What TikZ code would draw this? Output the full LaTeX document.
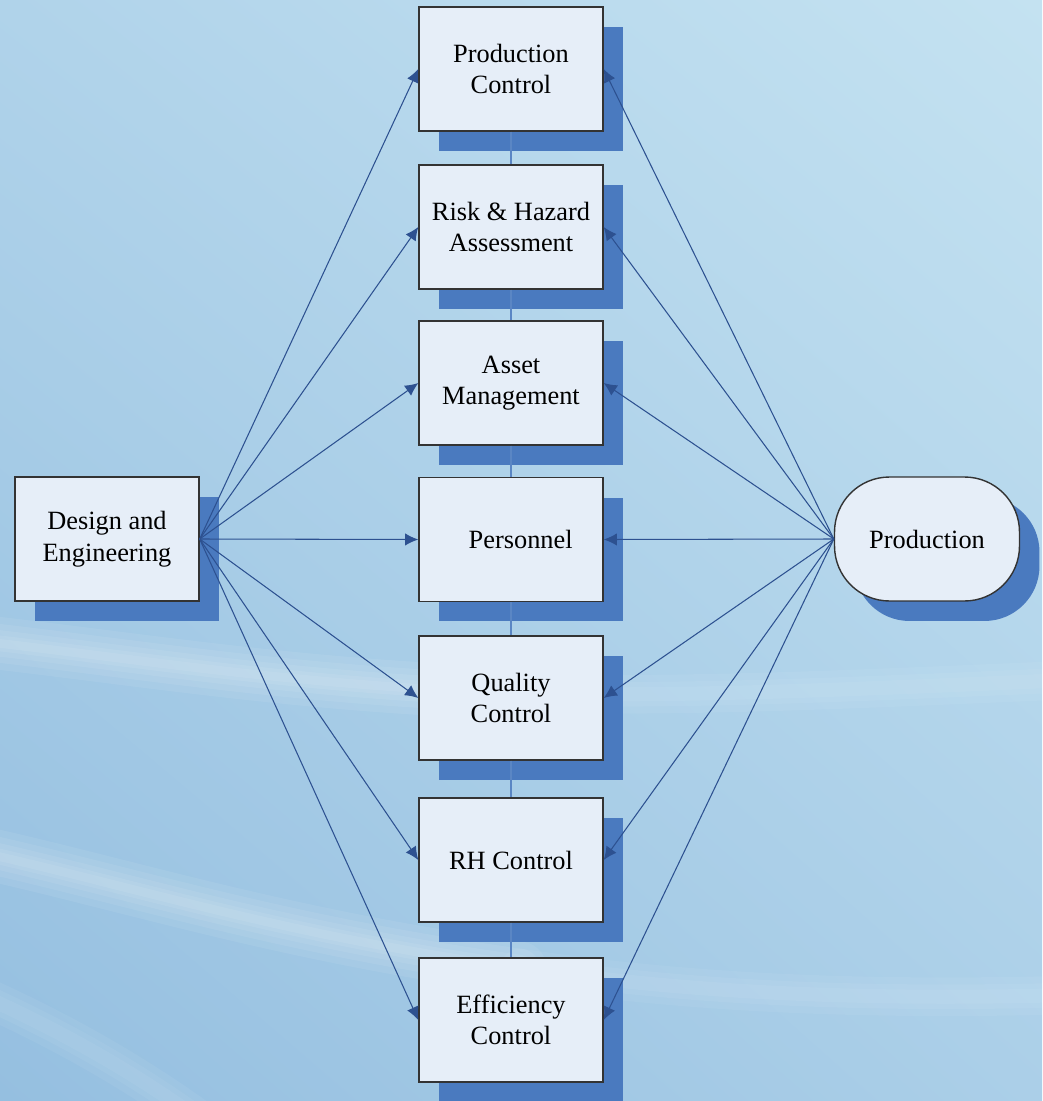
\documentclass[tikz,border=0pt]{standalone}
\usepackage{fontspec}
\setmainfont{Liberation Serif}
\usetikzlibrary{shadows,shadings,arrows.meta}
\definecolor{boxfill}{HTML}{E6EEF8}
\definecolor{shadowblue}{HTML}{4A7ABF}
\definecolor{linkblue}{HTML}{2D5190}
\definecolor{stemblue}{HTML}{5A86C4}
\definecolor{bgUL}{HTML}{B0D3EA}
\definecolor{bgUR}{HTML}{C4E2F1}
\definecolor{bgLL}{HTML}{95BFE0}
\definecolor{bgLR}{HTML}{ABCFE8}
\begin{document}
\begin{tikzpicture}[x=0.02cm,y=-0.02cm,
  stepbox/.style={draw=black!80, fill=boxfill, line width=0.8pt,
    minimum width=3.68cm, minimum height=2.48cm, inner sep=0pt,
    align=center, font=\fontsize{15}{18}\selectfont,
    drop shadow={shadow xshift=0.4cm, shadow yshift=-0.4cm,
      fill=shadowblue, opacity=1}},
  endbox/.style={stepbox, rounded corners=1.1cm, minimum width=3.7cm},
  link/.style={draw=linkblue, line width=0.6pt,
    -{Latex[length=7.5pt,width=7pt]}},
  stem/.style={draw=stemblue, line width=0.6pt},
  soft/.style={white, opacity=0.07, line cap=round}]

% backdrop
\useasboundingbox (0,0) rectangle (1042,1101);
\shade[upper left=bgUL, upper right=bgUR, lower left=bgLL, lower right=bgLR]
  (0,0) rectangle (1042,1101);

% soft light streaks
\foreach \w in {30,22,15,9,5}{
  \draw[soft, line width=\w pt] (-30,640) .. controls (150,660) and (320,690) .. (560,694);
  \draw[soft, line width=\w pt] (-30,850) .. controls (130,885) and (280,935) .. (520,968);
}
\foreach \w in {22,14,8}{
  \draw[soft, opacity=0.05, line width=\w pt] (560,694) .. controls (720,696) and (880,688) .. (1070,680);
  \draw[soft, opacity=0.05, line width=\w pt] (520,968) .. controls (700,995) and (880,1000) .. (1070,995);
  \draw[soft, opacity=0.05, line width=\w pt] (-30,990) .. controls (60,1030) and (130,1070) .. (200,1120);
}

% nodes
\node[stepbox] (de) at (107,539) {Design and\\Engineering};
\node[endbox] (prod) at (927,539) {Production};
\node[stepbox] (b1) at (511,69) {Production\\Control};
\node[stepbox] (b2) at (511,227) {Risk \& Hazard\\Assessment};
\node[stepbox] (b3) at (511,383) {Asset\\Management};
\node[stepbox] (b4) at (511,539.5) {\hspace*{11pt}Personnel};
\node[stepbox] (b5) at (511,698) {Quality\\Control};
\node[stepbox] (b6) at (511,860) {RH Control};
\node[stepbox] (b7) at (511,1020) {Efficiency\\Control};

% stems between stacked boxes
\foreach \a/\b in {b1/b2,b2/b3,b3/b4,b4/b5,b5/b6,b6/b7}
  \draw[stem] (\a.south) -- (\b.north);

% links
\foreach \t in {b1,b2,b3,b4,b5,b6,b7}{
  \draw[link] (de.east) -- (\t.west);
  \draw[link] (prod.west) -- (\t.east);
}
\end{tikzpicture}
\end{document}
